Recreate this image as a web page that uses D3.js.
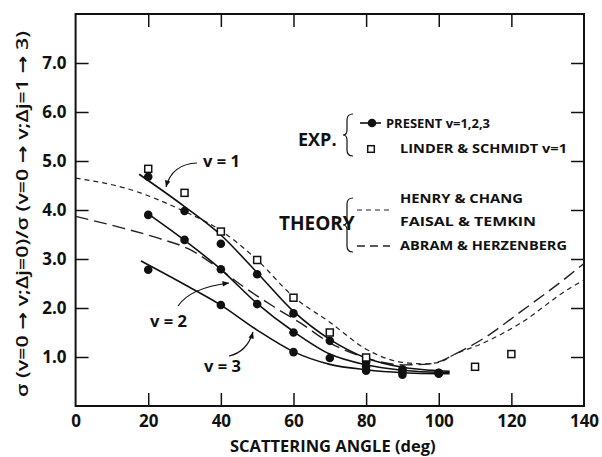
<!DOCTYPE html>
<html><head><meta charset="utf-8">
<script src="https://cdn.jsdelivr.net/npm/d3@7"></script>
<style>
html,body{margin:0;padding:0;background:#fff;}
svg text{font-family:"Open Sans","DejaVu Sans",sans-serif;fill:#111;}
</style></head>
<body>
<svg id="c" width="602" height="457"></svg>
<script>
// ---------- data ----------
const xTicks = [0,20,40,60,80,100,120,140];
const yTicks = [1,2,3,4,5,6,7];
const yTickLabels = ["1.0","2.0","3.0","4.0","5.0","6.0","7.0"];

// PRESENT measurements (filled dots)
const v1Angles = [20,30,40,50,60,70,80,90,100];
const v1Values = [4.68,3.98,3.31,2.69,1.89,1.33,0.90,0.75,0.68];
const v2Angles = [20,30,40,50,60,70,80,90,100];
const v2Values = [3.90,3.39,2.79,2.08,1.50,0.98,0.80,0.70,0.67];
const v3Angles = [20,40,60,80,90,100];
const v3Values = [2.78,2.06,1.10,0.72,0.64,0.66];

// LINDER & SCHMIDT v=1 (open squares)
const lsAngles = [20,30,40,50,60,70,80,110,120];
const lsValues = [4.84,4.35,3.56,2.98,2.21,1.50,0.99,0.80,1.06];

// fitted curves through the present data (solid)
const fit1Angles = [17.5,30,40,50,60,70,80,90,100,103];
const fit1Values = [4.73,4.07,3.49,2.72,1.93,1.36,0.98,0.79,0.72,0.71];
const fit2Angles = [19.4,30,40,50,60,70,80,90,100,103];
const fit2Values = [3.95,3.38,2.79,2.09,1.52,1.06,0.84,0.73,0.69,0.69];
const fit3Angles = [18,30,40,50,60,70,80,90,100,103];
const fit3Values = [2.96,2.48,2.06,1.55,1.11,0.85,0.74,0.68,0.66,0.66];

// theory: Henry & Chang / Faisal & Temkin (short dash)
const hcAngles = [0,14,30,40,50,60,70,80,90,96,100,104,113,122.5,136,140];
const hcValues = [4.65,4.44,3.97,3.58,2.98,2.23,1.71,1.16,0.89,0.86,0.89,1.04,1.31,1.69,2.40,2.57];
// theory: Abram & Herzenberg (long dash)
const ahAngles = [0,13,23,31,40,45,54.5,62,70,80,90,96,100,104,113,122.5,136,140];
const ahValues = [3.87,3.63,3.42,3.21,2.78,2.50,2.03,1.69,1.29,0.98,0.84,0.85,0.90,1.04,1.41,1.92,2.67,2.91];

// ---------- drawing ----------
const svg = d3.select("#c");
const L=75.6, R=584, T=14, B=406;
const x = d3.scaleLinear().domain([0,140]).range([L,R]);
const y = d3.scaleLinear().domain([0,8]).range([B,T]);
const FW = 700;

const g = svg.append("g");
// frame
g.append("rect").attr("x",L).attr("y",T).attr("width",R-L).attr("height",B-T)
 .attr("fill","none").attr("stroke","#111").attr("stroke-width",2);

// axes via d3 axis (inward ticks)
const tk = 13;
const bottomAx = d3.axisBottom(x).tickValues(xTicks).tickSizeInner(-tk).tickSizeOuter(0).tickPadding(6)
  .tickFormat(d=>String(d));
const gb = g.append("g").attr("transform",`translate(0,${B})`).call(bottomAx);
gb.select(".domain").remove();
gb.selectAll(".tick line").attr("stroke","#111").attr("stroke-width",1.5)
  .filter(d=>d===0||d===140).remove();
gb.selectAll(".tick text").attr("font-size",17).attr("font-weight",FW).attr("dy","0.9em");

const topAx = d3.axisTop(x).tickValues(xTicks.filter(d=>d>0&&d<140)).tickSizeInner(-tk).tickSizeOuter(0).tickFormat("");
const gt = g.append("g").attr("transform",`translate(0,${T})`).call(topAx);
gt.select(".domain").remove();
gt.selectAll(".tick line").attr("stroke","#111").attr("stroke-width",1.5);

const leftAx = d3.axisLeft(y).tickValues(yTicks).tickSizeInner(-tk).tickSizeOuter(0).tickPadding(9)
  .tickFormat((d,i)=>yTickLabels[i]);
const gl = g.append("g").attr("transform",`translate(${L},0)`).call(leftAx);
gl.select(".domain").remove();
gl.selectAll(".tick line").attr("stroke","#111").attr("stroke-width",1.5);
gl.selectAll(".tick text").attr("font-size",17).attr("font-weight",FW);

const rightAx = d3.axisRight(y).tickValues(yTicks).tickSizeInner(-tk).tickSizeOuter(0).tickFormat("");
const gr = g.append("g").attr("transform",`translate(${R},0)`).call(rightAx);
gr.select(".domain").remove();
gr.selectAll(".tick line").attr("stroke","#111").attr("stroke-width",1.5);

// axis titles
svg.append("text").attr("x",(L+R)/2+3).attr("y",452).attr("text-anchor","middle")
  .attr("font-size",16.5).attr("font-weight",FW).text("SCATTERING ANGLE (deg)");
svg.append("text").attr("transform","translate(28,214) rotate(-90)").attr("text-anchor","middle")
  .attr("font-size",16.5).attr("font-weight",600).attr("textLength",366).attr("lengthAdjust","spacingAndGlyphs")
  .text("σ (v=0 → v;Δj=0)/σ (v=0 → v;Δj=1 → 3)");

// curves
const zip = (a,b)=>a.map((d,i)=>[d,b[i]]);
const line = d3.line().x(d=>x(d[0])).y(d=>y(d[1])).curve(d3.curveMonotoneX);
const clip = svg.append("clipPath").attr("id","clp").append("rect")
  .attr("x",L).attr("y",T).attr("width",R-L).attr("height",B-T);
const curves = g.append("g").attr("clip-path","url(#clp)");
curves.append("path").attr("d",line(zip(hcAngles,hcValues))).attr("fill","none")
  .attr("stroke","#222").attr("stroke-width",1.2).attr("stroke-dasharray","5,4");
curves.append("path").attr("d",line(zip(ahAngles,ahValues))).attr("fill","none")
  .attr("stroke","#222").attr("stroke-width",1.4).attr("stroke-dasharray","13,6");
[[fit1Angles,fit1Values],[fit2Angles,fit2Values],[fit3Angles,fit3Values]].forEach(([a,b])=>{
  curves.append("path").attr("d",line(zip(a,b))).attr("fill","none")
    .attr("stroke","#111").attr("stroke-width",1.6);
});

// points
[[v1Angles,v1Values],[v2Angles,v2Values],[v3Angles,v3Values]].forEach(([a,b])=>{
  g.selectAll(null).data(zip(a,b)).enter().append("circle")
    .attr("cx",d=>x(d[0])).attr("cy",d=>y(d[1])).attr("r",4.3).attr("fill","#111");
});
g.selectAll(null).data(zip(lsAngles,lsValues)).enter().append("rect")
  .attr("x",d=>x(d[0])-3.5).attr("y",d=>y(d[1])-3.5).attr("width",7).attr("height",7)
  .attr("fill","#fff").attr("stroke","#111").attr("stroke-width",1.5);

// annotations
const ann = g.append("g").attr("fill","none").attr("stroke","#111").attr("stroke-width",1.2);
function arrow(x0,y0,cx,cy,x1,y1){
  const p=d3.path(); p.moveTo(x0,y0); p.quadraticCurveTo(cx,cy,x1,y1);
  ann.append("path").attr("d",p.toString());
  const ang=Math.atan2(y1-cy,x1-cx), s=7, w=0.4;
  const h=d3.path();
  h.moveTo(x1,y1);
  h.lineTo(x1-s*Math.cos(ang-w),y1-s*Math.sin(ang-w));
  h.lineTo(x1-s*Math.cos(ang+w),y1-s*Math.sin(ang+w));
  h.closePath();
  g.append("path").attr("d",h.toString()).attr("fill","#111");
}
arrow(197,163,172,164,166,187);
arrow(178,306,190,288,229,283);
arrow(229,356,247,352,253,332);
const annText=[["v = 1",203,167],["v = 2",150,327],["v = 3",204,372]];
annText.forEach(([t,ax,ay])=>svg.append("text").attr("x",ax).attr("y",ay)
  .attr("font-size",16.5).attr("font-weight",FW).text(t));

// legend
function brace(xb,y0,y1){
  const m=(y0+y1)/2, w=6;
  const p=d3.path();
  p.moveTo(xb+w,y0); p.quadraticCurveTo(xb,y0,xb,y0+6); p.lineTo(xb,m-5);
  p.quadraticCurveTo(xb,m,xb-4,m); p.quadraticCurveTo(xb,m,xb,m+5);
  p.lineTo(xb,y1-6); p.quadraticCurveTo(xb,y1,xb+w,y1);
  svg.append("path").attr("d",p.toString()).attr("fill","none").attr("stroke","#111").attr("stroke-width",1.2);
}
svg.append("text").attr("x",298).attr("y",146).attr("font-size",18).attr("font-weight",FW).text("EXP.");
brace(347,114,156);
svg.append("line").attr("x1",360).attr("x2",381).attr("y1",123).attr("y2",123).attr("stroke","#111").attr("stroke-width",1.6);
svg.append("circle").attr("cx",372).attr("cy",123).attr("r",4.3).attr("fill","#111");
svg.append("rect").attr("x",371-3.3).attr("y",149-3.3).attr("width",6.6).attr("height",6.6)
  .attr("fill","#fff").attr("stroke","#111").attr("stroke-width",1.5);
const legText=[["PRESENT v=1,2,3",386,128,104],["LINDER & SCHMIDT v=1",400,153,167],
  ["HENRY & CHANG",400,203,123],["FAISAL & TEMKIN",400,226,136],["ABRAM & HERZENBERG",400,250,167]];
legText.forEach(([t,lx,ly,tl])=>svg.append("text").attr("x",lx).attr("y",ly).attr("font-size",12)
  .attr("font-weight",FW).attr("textLength",tl).attr("lengthAdjust","spacingAndGlyphs").text(t));
svg.append("text").attr("x",279).attr("y",230).attr("font-size",19).attr("font-weight",FW).text("THEORY");
brace(347,198,252);
svg.append("line").attr("x1",357).attr("x2",390).attr("y1",210).attr("y2",210).attr("stroke","#222")
  .attr("stroke-width",1.2).attr("stroke-dasharray","5,4");
svg.append("line").attr("x1",357).attr("x2",390).attr("y1",246).attr("y2",246).attr("stroke","#222")
  .attr("stroke-width",1.4).attr("stroke-dasharray","8,5");
</script>
</body></html>
